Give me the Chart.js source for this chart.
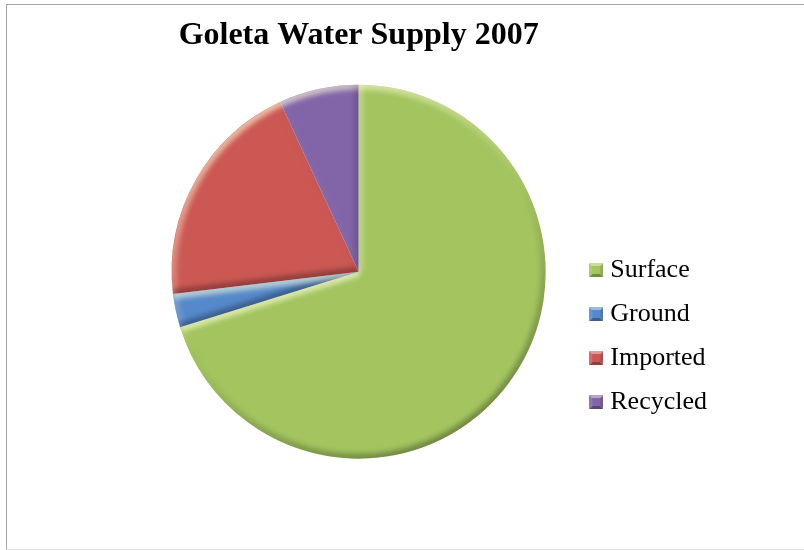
<!DOCTYPE html>
<html>
<head>
<meta charset="utf-8">
<script src="https://cdn.jsdelivr.net/npm/chart.js@4.4.0/dist/chart.umd.min.js"></script>
<style>
  body { margin: 0; background: #fff; }
  #frame {
    position: absolute; left: 6px; top: 4px; width: 900px; height: 544px;
    border-left: 1px solid #a3a3a3; border-top: 1px solid #a3a3a3; border-bottom: 1px solid #e4e4e4;
  }
  #myChart { position: absolute; left: 0; top: 0; }
</style>
</head>
<body>
<div id="frame"></div>
<canvas id="myChart" width="804" height="550"></canvas>
<script>
const sources = ['Surface', 'Ground', 'Imported', 'Recycled'];
const shares = [70.2, 2.9, 20.0, 6.9];
const sliceColors = ['#a3c45f', '#5689cb', '#cc5854', '#8265a8'];

const serif = "'Liberation Serif', 'Times New Roman', serif";

// mix a hex colour towards white (amt > 0) or black (amt < 0)
const shade = (hex, amt) => {
    const n = parseInt(hex.slice(1), 16);
    const rgb = [n >> 16, (n >> 8) & 255, n & 255].map(v =>
        Math.round(amt > 0 ? v + (255 - v) * amt : v * (1 + amt)));
    return `rgb(${rgb.join(',')})`;
};

// little bevelled squares for the legend
const legendIcon = (color) => {
    const c = document.createElement('canvas');
    c.width = 14; c.height = 14;
    const g = c.getContext('2d');
    const tri = (pts, fill) => {
        g.fillStyle = fill;
        g.beginPath();
        g.moveTo(pts[0][0], pts[0][1]);
        pts.slice(1).forEach(p => g.lineTo(p[0], p[1]));
        g.closePath();
        g.fill();
    };
    tri([[0, 0], [14, 0], [7, 7]], shade(color, 0.4));
    tri([[0, 0], [0, 14], [7, 7]], shade(color, 0.12));
    tri([[14, 0], [14, 14], [7, 7]], shade(color, -0.12));
    tri([[0, 14], [14, 14], [7, 7]], shade(color, -0.3));
    g.fillStyle = color;
    g.fillRect(3, 3, 8, 8);
    return c;
};
const icons = sliceColors.map(legendIcon);

// soft bevel on each slice, lit from the upper left
const light = { x: -0.45, y: -0.89 };
const edgeColor = (nx, ny) => {
    const s = nx * light.x + ny * light.y;
    return s > 0
        ? `rgba(255,255,220,${(0.6 * s).toFixed(3)})`
        : `rgba(0,0,0,${(-0.3 * s).toFixed(3)})`;
};

const bevel = {
    id: 'bevel',
    afterDatasetsDraw(chart) {
        const ctx = chart.ctx;
        chart.getDatasetMeta(0).data.forEach(arc => {
            const { x, y, startAngle, endAngle, outerRadius: r } =
                arc.getProps(['x', 'y', 'startAngle', 'endAngle', 'outerRadius'], true);
            ctx.save();
            ctx.beginPath();
            ctx.moveTo(x, y);
            ctx.arc(x, y, r, startAngle, endAngle);
            ctx.closePath();
            ctx.clip();
            ctx.filter = 'blur(2.5px)';
            ctx.lineWidth = 10;

            const rim = ctx.createConicGradient(0, x, y);
            for (let i = 0; i <= 36; i++) {
                const a = i / 36 * Math.PI * 2;
                rim.addColorStop(i / 36, edgeColor(Math.cos(a), Math.sin(a)));
            }
            ctx.strokeStyle = rim;
            ctx.beginPath();
            ctx.arc(x, y, r, 0, Math.PI * 2);
            ctx.stroke();

            [[startAngle, -1], [endAngle, 1]].forEach(([a, side]) => {
                const na = a + side * Math.PI / 2;
                ctx.strokeStyle = edgeColor(Math.cos(na), Math.sin(na));
                ctx.beginPath();
                ctx.moveTo(x, y);
                ctx.lineTo(x + Math.cos(a) * r, y + Math.sin(a) * r);
                ctx.stroke();
            });
            ctx.restore();
        });
    }
};

const baseLabels = Chart.overrides.doughnut.plugins.legend.labels.generateLabels;

new Chart(document.getElementById('myChart'), {
    type: 'pie',
    data: {
        labels: sources,
        datasets: [{
            data: shares,
            backgroundColor: sliceColors,
            borderWidth: 0,
            radius: 187
        }]
    },
    options: {
        responsive: false,
        animation: false,
        events: [],
        layout: { padding: { left: 140, right: 87, top: 0, bottom: 117 } },
        plugins: {
            title: {
                display: true,
                fullSize: false,
                text: 'Goleta Water Supply 2007',
                color: '#000',
                font: { family: serif, size: 32, weight: 'bold', lineHeight: 1.2 },
                padding: { top: 17, bottom: 55 }
            },
            legend: {
                position: 'right',
                align: 'end',
                labels: {
                    usePointStyle: true,
                    pointStyleWidth: 2,
                    padding: 18,
                    color: '#000',
                    font: { family: serif, size: 26 },
                    generateLabels: chart => baseLabels(chart).map((item, i) => ({ ...item, pointStyle: icons[i] }))
                }
            },
            tooltip: { enabled: false }
        }
    },
    plugins: [bevel]
});
</script>
</body>
</html>
